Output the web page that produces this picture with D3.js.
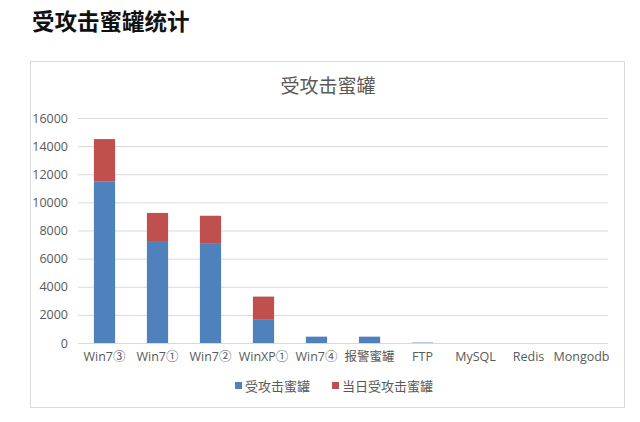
<!DOCTYPE html>
<html>
<head>
<meta charset="utf-8">
<script src="https://cdn.jsdelivr.net/npm/d3@7"></script>
<style>
  body { margin: 0; background: #fff; font-family: "Noto Sans CJK SC", "Open Sans", sans-serif; }
</style>
</head>
<body>
<div id="chart"></div>
<script>
// categories and values
var categories = ["Win7③", "Win7①", "Win7②", "WinXP①", "Win7④", "报警蜜罐", "FTP", "MySQL", "Redis", "Mongodb"];
var attacked = [11500, 7250, 7050, 1650, 450, 450, 30, 0, 0, 0];      // 受攻击蜜罐
var attackedToday = [3000, 2000, 2000, 1650, 0, 0, 0, 0, 0, 0];      // 当日受攻击蜜罐
var yTicks = [0, 2000, 4000, 6000, 8000, 10000, 12000, 14000, 16000];
var seriesNames = ["受攻击蜜罐", "当日受攻击蜜罐"];
var colors = ["#4F81BD", "#C0504D"];

var width = 640, height = 422;
var margin = { top: 118, right: 32, bottom: 79, left: 78 };

var svg = d3.select("#chart").append("svg")
    .attr("width", width)
    .attr("height", height);

// page heading
svg.append("text")
    .attr("x", 32)
    .attr("y", 30)
    .attr("font-size", 22.5)
    .attr("font-weight", "bold")
    .attr("fill", "#111")
    .text("受攻击蜜罐统计");

// chart frame
svg.append("rect")
    .attr("x", 30.5).attr("y", 61.5)
    .attr("width", 594).attr("height", 346)
    .attr("fill", "#fff")
    .attr("stroke", "#d9d9d9");

svg.append("text")
    .attr("x", 328).attr("y", 93)
    .attr("text-anchor", "middle")
    .attr("font-size", 19)
    .attr("fill", "#595959")
    .text("受攻击蜜罐");

var rows = categories.map(function(c, i) {
    return { name: c, a: attacked[i], b: attackedToday[i] };
});

var x = d3.scaleBand()
    .domain(categories)
    .range([margin.left, width - margin.right])
    .paddingInner(0.6)
    .paddingOuter(0.3);

var y = d3.scaleLinear()
    .domain([0, 16000])
    .range([height - margin.bottom, margin.top]);

// gridlines + y labels
var yAxis = svg.append("g")
    .attr("transform", "translate(" + margin.left + ",0)")
    .call(d3.axisLeft(y).tickValues(yTicks).tickSize(-(width - margin.right - margin.left)).tickFormat(d3.format("d")));
yAxis.select(".domain").remove();
yAxis.selectAll("line").attr("stroke", "#d9d9d9");
yAxis.selectAll("text")
    .attr("x", -10)
    .attr("font-size", 12.5)
    .attr("font-family", "'Open Sans', sans-serif")
    .attr("fill", "#595959");

var stack = d3.stack().keys(["a", "b"]);
var layers = stack(rows);

svg.append("g").selectAll("g")
    .data(layers)
    .join("g")
    .attr("fill", function(d, i) { return colors[i]; })
    .selectAll("rect")
    .data(function(d) { return d; })
    .join("rect")
    .attr("x", function(d) { return x(d.data.name); })
    .attr("y", function(d) { return y(d[1]); })
    .attr("height", function(d) { return y(d[0]) - y(d[1]); })
    .attr("width", x.bandwidth());

// baseline
svg.append("line")
    .attr("x1", margin.left).attr("x2", width - margin.right)
    .attr("y1", y(0) + 0.5).attr("y2", y(0) + 0.5)
    .attr("stroke", "#d9d9d9");

// category labels
var xAxis = svg.append("g")
    .attr("transform", "translate(0," + y(0) + ")")
    .call(d3.axisBottom(x).tickSize(0).tickPadding(9));
xAxis.select(".domain").remove();
xAxis.selectAll("text")
    .attr("font-size", 12.5)
    .attr("font-family", "'Open Sans', 'Noto Sans CJK SC', sans-serif")
    .attr("fill", "#595959");

// legend
var legend = svg.append("g").attr("transform", "translate(235,386)");
var legendX = [0, 97];
seriesNames.forEach(function(name, i) {
    var g = legend.append("g").attr("transform", "translate(" + legendX[i] + ",0)");
    g.append("rect").attr("x", 0).attr("y", -4).attr("width", 7).attr("height", 7).attr("fill", colors[i]);
    g.append("text").attr("x", 10).attr("y", 4.5)
        .attr("font-size", 13).attr("fill", "#595959")
        .text(name);
});
</script>
</body>
</html>
